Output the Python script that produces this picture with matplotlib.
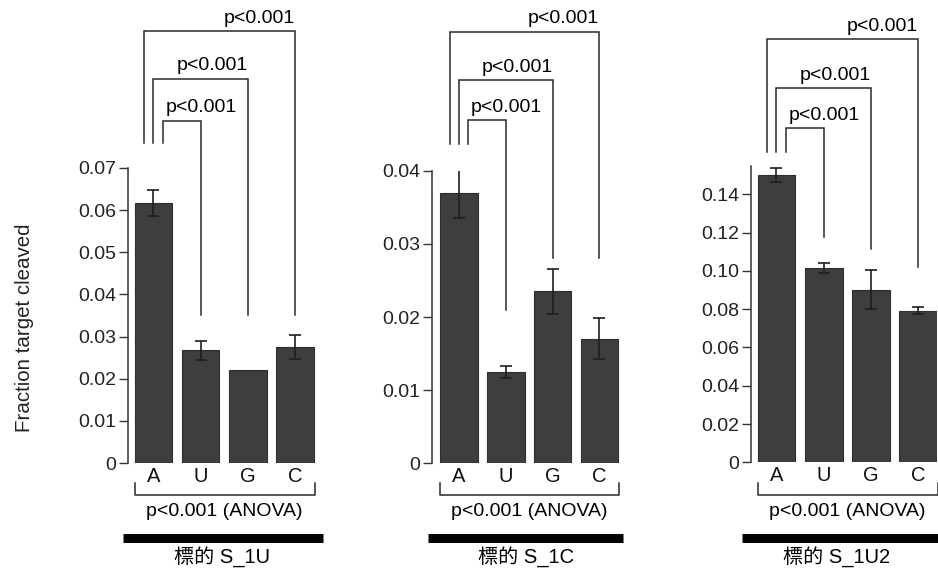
import matplotlib
matplotlib.use('Agg')
import matplotlib.pyplot as plt
import matplotlib.transforms as mtransforms

plt.rcParams['font.family'] = ['Liberation Sans', 'Noto Sans CJK TC', 'DejaVu Sans']

# data
bases = ['A', 'U', 'G', 'C']
targets = ['標的 S_1U', '標的 S_1C', '標的 S_1U2']

means_1u = [0.0617, 0.0267, 0.0221, 0.0275]
errs_1u = [0.0030, 0.0022, 0.0, 0.0028]
means_1c = [0.0370, 0.0125, 0.0235, 0.0170]
errs_1c = [0.0034, 0.0008, 0.0031, 0.0028]
means_1u2 = [0.1501, 0.1013, 0.0902, 0.0792]
errs_1u2 = [0.0036, 0.0026, 0.0100, 0.0020]

yticks_1u = [0, 0.01, 0.02, 0.03, 0.04, 0.05, 0.06, 0.07]
ylabels_1u = ['0', '0.01', '0.02', '0.03', '0.04', '0.05', '0.06', '0.07']
yticks_1c = [0, 0.01, 0.02, 0.03, 0.04]
ylabels_1c = ['0', '0.01', '0.02', '0.03', '0.04']
yticks_1u2 = [0, 0.02, 0.04, 0.06, 0.08, 0.10, 0.12, 0.14]
ylabels_1u2 = ['0', '0.02', '0.04', '0.06', '0.08', '0.10', '0.12', '0.14']

pair_p = ['p<0.001', 'p<0.001', 'p<0.001']   # A vs U, A vs G, A vs C
anova_p = 'p<0.001 (ANOVA)'

W, H = 938, 573
bar_color = '#3e3e40'
line_color = '#2a2a2a'
fs = 14

fig = plt.figure(figsize=(W / 100, H / 100), dpi=100)

# layout per panel (pixel boxes and bracket heights in data units)
panels = [
    dict(means=means_1u, errs=errs_1u, ticks=yticks_1u, labels=ylabels_1u,
         box=(128, 168, 316, 463), xlim=(-0.54, 3.45), ylim=(0, 0.07),
         right_bottom=[0.0352, 0.0352, 0.0352], left_bottom=0.076,
         levels=[0.0812, 0.0912, 0.1024], black=(-0.65, 3.59), name_x=1.45),
    dict(means=means_1c, errs=errs_1c, ticks=yticks_1c, labels=ylabels_1c,
         box=(432, 170.7, 620.5, 463.3), xlim=(-0.577, 3.45), ylim=(0, 0.04),
         right_bottom=[0.021, 0.028, 0.028], left_bottom=0.0437,
         levels=[0.0469, 0.0524, 0.0590], black=(-0.66, 3.5), name_x=1.43),
    dict(means=means_1u2, errs=errs_1u2, ticks=yticks_1u2, labels=ylabels_1u2,
         box=(751, 165.5, 937, 462.3), xlim=(-0.54, 3.4), ylim=(0, 0.155),
         right_bottom=[0.1176, 0.1114, 0.1022], left_bottom=0.162,
         levels=[0.1746, 0.1955, 0.221], black=(-0.73, 3.8), name_x=1.28),
]

left_offsets = [0.2, 0.0, -0.2]


def fy(py):
    return 1 - py / H


for i, p in enumerate(panels):
    x0, y0, x1, y1 = p['box']
    ax = fig.add_axes([x0 / W, 1 - y1 / H, (x1 - x0) / W, (y1 - y0) / H])
    xs = list(range(len(bases)))
    ax.bar(xs, p['means'], width=0.8, color=bar_color, edgecolor='#2e2e2e',
           linewidth=0.8, zorder=2)
    for x, m, e in zip(xs, p['means'], p['errs']):
        if e > 0:
            ax.errorbar(x, m, yerr=e, color='#1e1e1e', capsize=4, elinewidth=1.2,
                        capthick=1.2, zorder=3)
    ax.set_xlim(*p['xlim'])
    ax.set_ylim(*p['ylim'])
    ax.set_yticks(p['ticks'])
    ax.set_yticklabels(p['labels'], fontsize=fs, color='#222222')
    ax.set_xticks(xs)
    ax.set_xticklabels(bases, fontsize=14.5, color='#111111')
    ax.tick_params(axis='x', length=0, pad=3)
    ax.tick_params(axis='y', length=6.5, width=1.0, color='#333333', pad=2)
    for s in ['top', 'right', 'bottom']:
        ax.spines[s].set_visible(False)
    ax.spines['left'].set_color('#333333')
    ax.spines['left'].set_linewidth(1.1)

    # pairwise brackets above the bars (A vs U, G, C)
    for k in range(3):
        lx = left_offsets[k]
        rx = k + 1
        lev = p['levels'][k]
        ax.plot([lx, lx, rx, rx], [p['left_bottom'], lev, lev, p['right_bottom'][k]],
                color=line_color, lw=1.1, clip_on=False, solid_joinstyle='miter')
        if k == 0:
            ax.annotate(pair_p[k], (lx + 0.05, lev), xytext=(0, 6),
                        textcoords='offset points', ha='left', va='baseline',
                        fontsize=fs, annotation_clip=False)
        else:
            ax.annotate(pair_p[k], (rx, lev), xytext=(0, 6),
                        textcoords='offset points', ha='right', va='baseline',
                        fontsize=fs, annotation_clip=False)

    # lower annotations: ANOVA bracket, black bar and target name
    tr = mtransforms.blended_transform_factory(ax.transData, fig.transFigure)
    ax.plot([-0.4, -0.4, 3.42, 3.42], [fy(483), fy(495), fy(495), fy(483)],
            transform=tr, color=line_color, lw=1.1, clip_on=False)
    ax.text(1.5, fy(511), anova_p, transform=tr, ha='center', va='center',
            fontsize=fs)
    ax.plot(list(p['black']), [fy(537.5), fy(537.5)], transform=tr,
            color='black', lw=6.5, solid_capstyle='butt', clip_on=False)
    ax.text(p['name_x'], fy(557), targets[i], transform=tr, ha='center',
            va='center', fontsize=14.5)

fig.text(24 / W, fy(328), 'Fraction target cleaved', rotation=90,
         ha='center', va='center', fontsize=14.8, color='#222222')

fig.savefig('out.png', dpi=100)
